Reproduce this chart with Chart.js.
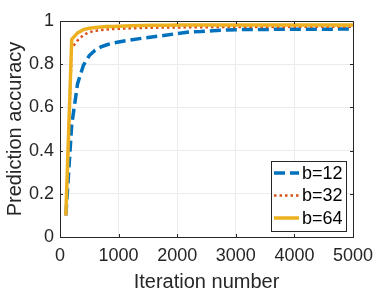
<!DOCTYPE html>
<html>
<head>
<meta charset="utf-8">
<script src="https://cdn.jsdelivr.net/npm/chart.js@4"></script>
<style>
html,body{margin:0;padding:0;background:#fff;}
#wrap{width:390px;height:293px;position:relative;}
</style>
</head>
<body>
<div id="wrap"><canvas id="c" width="390" height="293"></canvas></div>
<script>
const iterations = [100,200,300,400,500,600,700,800,900,1000,1200,1400,1600,1800,2000,2200,2400,2600,2800,3000,3500,4000,4500,5000];
const accB12 = [0.10,0.52,0.71,0.795,0.84,0.865,0.88,0.89,0.898,0.903,0.912,0.92,0.927,0.934,0.942,0.949,0.951,0.955,0.958,0.960,0.961,0.962,0.962,0.963];
const accB32 = [0.10,0.875,0.91,0.935,0.948,0.955,0.958,0.961,0.963,0.964,0.966,0.968,0.969,0.970,0.970,0.971,0.971,0.972,0.972,0.972,0.972,0.973,0.973,0.973];
const accB64 = [0.10,0.915,0.945,0.96,0.966,0.970,0.972,0.974,0.975,0.976,0.978,0.979,0.980,0.980,0.981,0.981,0.981,0.981,0.981,0.982,0.982,0.982,0.982,0.982];
const seriesLabels = ['b=12','b=32','b=64'];
const xTicks = [0,1000,2000,3000,4000,5000];
const yTicks = [0,0.2,0.4,0.6,0.8,1];

const FONT = '"Liberation Sans", Arial, Helvetica, sans-serif';
const AX = '#262626';

function pts(ys){ return iterations.map((x,i)=>({x:x,y:ys[i]})); }

const boxPlugin = {
  id:'boxPlugin',
  afterDatasetsDraw(chart){
    const {ctx, chartArea:a, scales} = chart;
    ctx.save();
    ctx.strokeStyle = AX; ctx.lineWidth = 1;
    const tl = 3;
    xTicks.forEach(v=>{
      const px = Math.round(scales.x.getPixelForValue(v))+0.5;
      ctx.beginPath(); ctx.moveTo(px,a.bottom); ctx.lineTo(px,a.bottom-tl); ctx.stroke();
      ctx.beginPath(); ctx.moveTo(px,a.top); ctx.lineTo(px,a.top+tl); ctx.stroke();
    });
    yTicks.forEach(v=>{
      const py = Math.round(scales.y.getPixelForValue(v))+0.5;
      ctx.beginPath(); ctx.moveTo(a.left,py); ctx.lineTo(a.left+tl,py); ctx.stroke();
      ctx.beginPath(); ctx.moveTo(a.right,py); ctx.lineTo(a.right-tl,py); ctx.stroke();
    });
    ctx.strokeRect(Math.round(a.left)+0.5, Math.round(a.top)+0.5, Math.round(a.right-a.left), Math.round(a.bottom-a.top));
    // legend
    const bx = a.right - 82, by = a.bottom - 76, bw = 75, bh = 70;
    ctx.fillStyle = '#fff';
    ctx.fillRect(bx, by, bw, bh);
    ctx.strokeStyle = AX;
    ctx.strokeRect(bx+0.5, by+0.5, bw, bh);
    ctx.font = '18px ' + FONT;
    ctx.textBaseline = 'middle';
    ctx.textAlign = 'left';
    chart.data.datasets.forEach((ds,i)=>{
      const cy = by + 12 + i*22.5;
      ctx.save();
      ctx.strokeStyle = ds.borderColor;
      ctx.lineWidth = ds.borderWidth;
      ctx.setLineDash(ds.borderDash || []);
      ctx.beginPath(); ctx.moveTo(bx+3, cy); ctx.lineTo(bx+28, cy); ctx.stroke();
      ctx.restore();
      ctx.fillStyle = '#000';
      ctx.fillText(ds.label, bx+31, cy+1);
    });
    ctx.restore();
  }
};

new Chart(document.getElementById('c'), {
  type:'line',
  data:{
    datasets:[
      {label:seriesLabels[0], data:pts(accB12), borderColor:'#0072BD', borderWidth:3.5, borderDash:[11,5], pointRadius:0, fill:false, tension:0, order:3},
      {label:seriesLabels[1], data:pts(accB32), borderColor:'#D95319', borderWidth:2.5, borderDash:[2.5,3], pointRadius:0, fill:false, tension:0, order:2},
      {label:seriesLabels[2], data:pts(accB64), borderColor:'#EDB120', borderWidth:3.5, pointRadius:0, fill:false, tension:0, order:1}
    ]
  },
  options:{
    responsive:false,
    animation:false,
    devicePixelRatio:1,
    layout:{padding:{left:0,right:37,top:21,bottom:0}},
    plugins:{legend:{display:false}, tooltip:{enabled:false}},
    scales:{
      x:{
        type:'linear', min:0, max:5000,
        afterBuildTicks(s){ s.ticks = xTicks.map(v=>({value:v})); },
        afterFit(s){ s.height = 56; },
        grid:{color:'#ebebeb', drawTicks:false},
        border:{display:false},
        ticks:{padding:8, color:AX, font:{family:FONT, size:18}, maxRotation:0, callback:v=>String(v)},
        title:{display:true, text:'Iteration number', color:AX, font:{family:FONT, size:20}, padding:{top:0,bottom:-1}}
      },
      y:{
        type:'linear', min:0, max:1,
        afterBuildTicks(s){ s.ticks = yTicks.map(v=>({value:v})); },
        afterFit(s){ s.width = 60; },
        grid:{color:'#ebebeb', drawTicks:false},
        border:{display:false},
        ticks:{padding:6, color:AX, font:{family:FONT, size:18}, callback:v=>String(v)},
        title:{display:true, text:'Prediction accuracy', color:AX, font:{family:FONT, size:20}, padding:{top:3,bottom:0}}
      }
    }
  },
  plugins:[boxPlugin]
});
</script>
</body>
</html>
